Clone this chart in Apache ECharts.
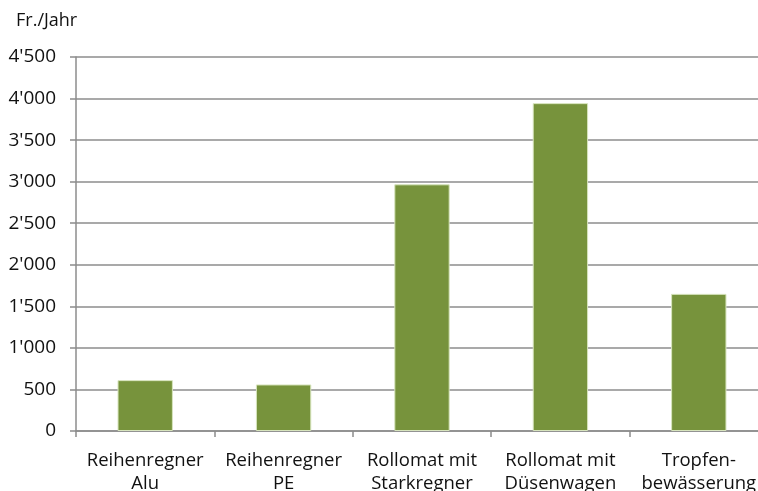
<!DOCTYPE html>
<html>
<head>
<meta charset="utf-8">
<script src="https://cdn.jsdelivr.net/npm/echarts@6/dist/echarts.min.js"></script>
<style>
  html, body { margin: 0; padding: 0; background: #fff; }
  #chart { width: 758px; height: 491px; }
</style>
</head>
<body>
<div id="chart"></div>
<script>
// category labels (two lines each) and yearly costs in Fr.
const categories = [
  'Reihenregner\nAlu',
  'Reihenregner\nPE',
  'Rollomat mit\nStarkregner',
  'Rollomat mit\nDüsenwagen',
  'Tropfen-\nbewässerung'
]
const costs = [612, 560, 2968, 3945, 1650]
const yTicks = [0, 500, 1000, 1500, 2000, 2500, 3000, 3500, 4000, 4500]

const gridColor = '#8c8c8c'
const textColor = '#111111'
const font = 'Open Sans'

// 4500 -> 4'500
function swissNumber(v) {
  return String(v).replace(/\B(?=(\d{3})+(?!\d))/g, "'")
}

const chart = echarts.init(document.getElementById('chart'))

chart.setOption({
  backgroundColor: '#ffffff',
  animation: false,
  title: {
    text: 'Fr./Jahr',
    left: 11,
    top: 7,
    textStyle: {
      fontFamily: font,
      fontWeight: 'normal',
      fontSize: 18,
      color: textColor
    }
  },
  grid: {
    left: 76,
    top: 57,
    width: 692,
    height: 374,
    containLabel: false,
    outerBoundsMode: 'none'
  },
  xAxis: {
    type: 'category',
    data: categories,
    axisLine: { lineStyle: { color: gridColor, width: 1.5 } },
    axisTick: {
      show: true,
      length: 6,
      lineStyle: { color: gridColor, width: 1.5 }
    },
    axisLabel: {
      interval: 0,
      margin: 18,
      fontFamily: font,
      fontSize: 18.5,
      lineHeight: 23,
      color: textColor
    }
  },
  yAxis: {
    type: 'value',
    min: 0,
    max: yTicks[yTicks.length - 1],
    interval: 500,
    axisLine: { show: true, lineStyle: { color: gridColor, width: 1.5 } },
    axisTick: { show: true, length: 6, lineStyle: { color: gridColor, width: 1.5 } },
    axisLabel: {
      margin: 20,
      fontFamily: font,
      fontSize: 19,
      color: textColor,
      formatter: swissNumber
    },
    splitLine: { lineStyle: { color: gridColor, width: 1.5 } }
  },
  series: [
    {
      type: 'bar',
      data: costs,
      barCategoryGap: '60%',
      itemStyle: {
        color: '#77933c',
        borderColor: '#d7e4bd',
        borderWidth: 1
      }
    }
  ]
})
</script>
</body>
</html>
